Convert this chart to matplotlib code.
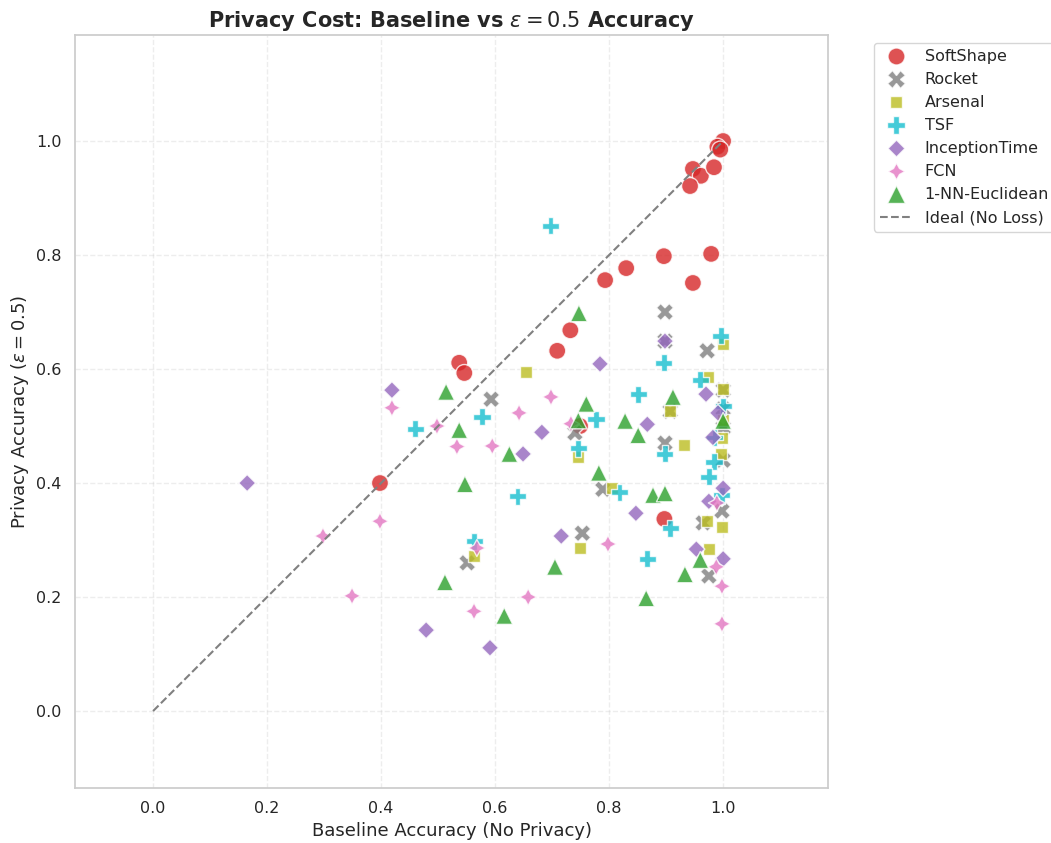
import numpy as np
import pandas as pd
import matplotlib
matplotlib.use("Agg")
import matplotlib.pyplot as plt
import seaborn as sns

methods = ["SoftShape", "Rocket", "Arsenal", "TSF", "InceptionTime", "FCN", "1-NN-Euclidean"]

softshape_base = [1.0, 0.99, 0.995, 0.947, 0.961, 0.984, 0.942, 0.896, 0.979, 0.830,
                  0.793, 0.947, 0.732, 0.709, 0.537, 0.546, 0.749, 0.398, 0.897]
softshape_priv = [1.0, 0.99, 0.985, 0.951, 0.939, 0.954, 0.921, 0.798, 0.802, 0.777,
                  0.756, 0.751, 0.668, 0.632, 0.611, 0.593, 0.500, 0.400, 0.337]

rocket_base = [0.898, 0.898, 0.972, 0.907, 0.898, 1.0, 1.0, 1.0, 1.0, 0.593,
               0.740, 0.789, 0.753, 0.551, 0.998, 0.965, 0.975]
rocket_priv = [0.700, 0.649, 0.632, 0.526, 0.470, 0.563, 0.530, 0.497, 0.440, 0.547,
               0.488, 0.389, 0.312, 0.260, 0.351, 0.330, 0.237]

arsenal_base = [0.654, 1.0, 0.974, 1.0, 0.907, 0.932, 0.998, 0.996, 0.746, 0.805,
                0.749, 0.563, 0.972, 0.998, 0.975, 1.0]
arsenal_priv = [0.595, 0.644, 0.586, 0.565, 0.526, 0.467, 0.479, 0.451, 0.446, 0.391,
                0.286, 0.272, 0.333, 0.323, 0.284, 0.510]

tsf_base = [0.697, 0.996, 0.896, 0.960, 0.851, 1.0, 0.898, 0.984, 0.975, 0.985,
            0.998, 0.577, 0.460, 0.777, 0.746, 0.639, 0.563, 0.818, 0.907, 0.867]
tsf_priv = [0.851, 0.658, 0.611, 0.581, 0.556, 0.535, 0.451, 0.437, 0.411, 0.480,
            0.379, 0.516, 0.495, 0.512, 0.461, 0.377, 0.298, 0.384, 0.321, 0.267]

inception_base = [0.165, 0.419, 0.784, 0.898, 0.682, 0.649, 0.867, 0.970, 0.991, 0.982,
                  1.0, 0.975, 0.953, 1.0, 0.716, 0.591, 0.847, 0.479]
inception_priv = [0.400, 0.563, 0.609, 0.649, 0.489, 0.451, 0.503, 0.556, 0.523, 0.480,
                  0.391, 0.368, 0.284, 0.267, 0.307, 0.111, 0.347, 0.142]

fcn_base = [0.419, 0.498, 0.533, 0.595, 0.642, 0.698, 0.733, 0.398, 0.298, 0.349,
            0.798, 0.658, 0.563, 0.568, 0.989, 0.988, 0.998, 0.998]
fcn_priv = [0.532, 0.500, 0.464, 0.465, 0.523, 0.551, 0.504, 0.333, 0.307, 0.202,
            0.293, 0.200, 0.175, 0.286, 0.365, 0.253, 0.219, 0.153]

nn_base = [0.747, 0.514, 0.537, 0.625, 0.547, 0.760, 0.782, 0.912, 0.828, 0.851,
           0.877, 0.898, 0.960, 0.933, 0.865, 0.512, 0.616, 0.705, 0.746, 1.0]
nn_priv = [0.698, 0.560, 0.493, 0.451, 0.398, 0.539, 0.418, 0.551, 0.509, 0.484,
           0.379, 0.382, 0.265, 0.240, 0.198, 0.226, 0.167, 0.253, 0.510, 0.509]

base_vals = [softshape_base, rocket_base, arsenal_base, tsf_base, inception_base, fcn_base, nn_base]
priv_vals = [softshape_priv, rocket_priv, arsenal_priv, tsf_priv, inception_priv, fcn_priv, nn_priv]

rows = []
for m, b, p in zip(methods, base_vals, priv_vals):
    for bi, pi in zip(b, p):
        rows.append((m, bi, pi))
df = pd.DataFrame(rows, columns=["Method", "Baseline", "Privacy"])

palette = {"SoftShape": "#d62728", "Rocket": "#7f7f7f", "Arsenal": "#bcbd22",
           "TSF": "#17becf", "InceptionTime": "#9467bd", "FCN": "#e377c2",
           "1-NN-Euclidean": "#2ca02c"}

sns.set_theme(style="whitegrid")

fig = plt.figure(figsize=(10.51, 8.43), dpi=100)
ax = fig.add_axes([75 / 1051, 55 / 843, 753 / 1051, 753 / 843])

sns.scatterplot(data=df, x="Baseline", y="Privacy", hue="Method", style="Method",
                hue_order=methods, style_order=methods, palette=palette,
                s=150, alpha=0.8, edgecolor="white", linewidth=1.0, ax=ax)

# ideal line: privacy == baseline
ax.plot([0, 1], [0, 1], "--", color="gray", lw=1.5, label="Ideal (No Loss)")

ax.set_xlim(-0.137, 1.184)
ax.set_ylim(-0.135, 1.186)
ax.set_xticks(np.arange(0, 1.01, 0.2))
ax.set_yticks(np.arange(0, 1.01, 0.2))
ax.tick_params(labelsize=11.5)
ax.grid(True, ls="--", alpha=0.35)
for sp in ax.spines.values():
    sp.set_color("#cccccc")

ax.set_xlabel("Baseline Accuracy (No Privacy)", fontsize=13)
ax.set_ylabel(r"Privacy Accuracy ($\epsilon = 0.5$)", fontsize=13)
ax.set_title(r"Privacy Cost: Baseline vs $\epsilon = 0.5$ Accuracy",
             fontsize=15, fontweight="bold")
ax.legend(loc="upper left", bbox_to_anchor=(1.05, 1.0), fontsize=11.5, title=None,
          borderaxespad=0.5)

plt.savefig("out.png", dpi=100)
